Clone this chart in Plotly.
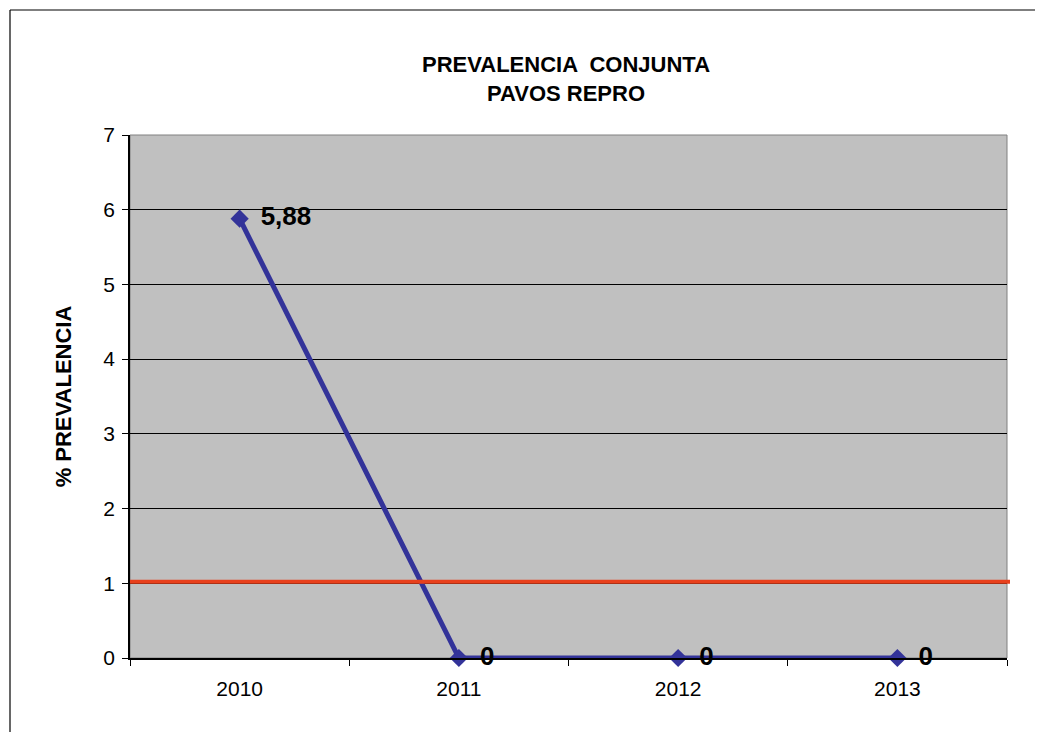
import plotly.graph_objects as go

years = ["2010", "2011", "2012", "2013"]
prevalence = [5.88, 0, 0, 0]
labels = ["5,88", "0", "0", "0"]
threshold = [1.02]

FONT = "Liberation Sans, Arial, sans-serif"

fig = go.Figure()
fig.add_trace(go.Scatter(
    x=years, y=prevalence, mode="lines+markers",
    line=dict(color="#333399", width=5),
    marker=dict(symbol="diamond", size=14, color="#333399"),
    cliponaxis=False, showlegend=False,
))
# data labels (transparent large marker pushes the text to the right)
fig.add_trace(go.Scatter(
    x=years, y=prevalence, mode="markers+text",
    text=labels, textposition="middle right",
    textfont=dict(family=FONT, size=26, color="black", weight="bold"),
    marker=dict(size=32, color="rgba(0,0,0,0)"),
    cliponaxis=False, showlegend=False, hoverinfo="skip",
))

OFF = 8  # page offset of the figure (body margin)
W, H = 1043 - OFF, 740 - 2 * OFF
L = 130 - OFF
T = 135 - OFF
R = W - (1007 - OFF)
B = H - (658 - OFF)
pw, ph = W - L - R, H - T - B

def px_x(p):
    return (p - OFF - L) / pw

def px_y(p):
    return (H - B - (p - OFF)) / ph

shapes = [
    dict(type="line", xref="paper", yref="paper",
         x0=px_x(10), x1=px_x(10), y0=px_y(760), y1=px_y(10),
         line=dict(color="black", width=1.2), layer="below"),
    dict(type="line", xref="paper", yref="paper",
         x0=px_x(10), x1=px_x(1060), y0=px_y(10), y1=px_y(10),
         line=dict(color="black", width=1.2), layer="below"),
    dict(type="rect", xref="paper", yref="paper", x0=0, x1=1, y0=0, y1=1,
         line=dict(color="#808080", width=1), layer="below"),
]
for t in threshold:
    shapes.append(dict(type="line", xref="paper", yref="y", x0=0, x1=px_x(1010), y0=t, y1=t,
                       line=dict(color="#E8401C", width=4), layer="above"))

fig.update_layout(
    width=W, height=H,
    margin=dict(l=L, r=R, t=T, b=B),
    paper_bgcolor="white", plot_bgcolor="#C0C0C0",
    title=dict(text="PREVALENCIA  CONJUNTA<br>PAVOS REPRO",
               font=dict(family=FONT, size=22, color="black", weight="bold"),
               x=(566 - OFF) / W, xanchor="center", y=1 - (72 - OFF) / H, yanchor="middle"),
    shapes=shapes,
    font=dict(family=FONT, color="black"),
)
fig.update_xaxes(
    type="category", range=[-0.5, 3.5], tickson="boundaries", ticks="outside",
    ticklen=6, tickcolor="black", showline=True, linecolor="black", linewidth=1.5,
    showgrid=False, tickfont=dict(family=FONT, size=21, color="black"),
    ticklabelstandoff=11,
)
fig.update_yaxes(
    range=[0, 7], dtick=1, ticks="outside", ticklen=6, tickcolor="black",
    showline=True, linecolor="black", linewidth=1.5,
    showgrid=True, gridcolor="black", gridwidth=1, zeroline=False,
    tickfont=dict(family=FONT, size=21, color="black"),
    ticklabelstandoff=3,
    title=dict(text="% PREVALENCIA", font=dict(family=FONT, size=22, color="black", weight="bold"),
               standoff=26),
)

fig.write_html("out.html")
